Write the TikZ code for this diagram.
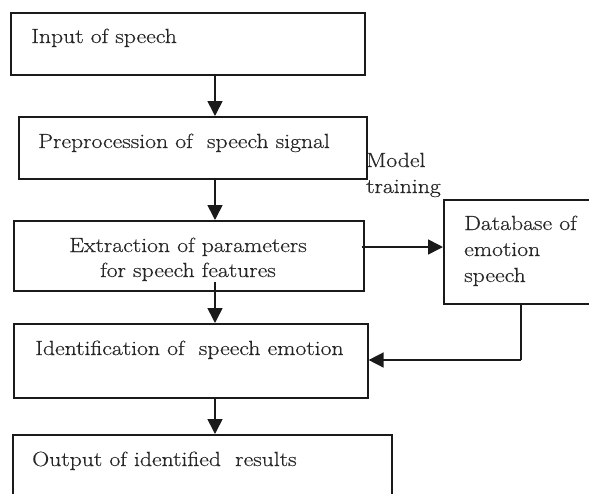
\documentclass[tikz,border=0pt]{standalone}
\usepackage{fontspec}
\setmainfont{Latin Modern Roman}[FakeStretch=1.155, FakeBold=0.4]
\usetikzlibrary{arrows.meta}
\definecolor{ink}{HTML}{1A1A1A}
\definecolor{txt}{HTML}{262626}
\begin{document}
\begin{tikzpicture}[x=1pt,y=-1pt,
  box/.style={draw=ink, line width=1.6pt, rectangle, inner sep=0pt, anchor=north west},
  lbl/.style={text=txt, inner sep=0pt, anchor=base west, font=\fontsize{20.5}{24}\selectfont},
  arr/.style={draw=ink, line width=1.6pt, -{Triangle[length=15pt,width=15pt]}},
  link/.style={draw=ink, line width=1.6pt}]
\useasboundingbox (0,0) rectangle (589,493);
\fill[white] (0,0) rectangle (589,493);

% process boxes
\node[box, minimum width=354pt, minimum height=62pt] (b1) at (10,12) {};
\node[box, minimum width=348pt, minimum height=62pt] (b2) at (18,116) {};
\node[box, minimum width=350pt, minimum height=70pt] (b3) at (13,220) {};
\node[box, minimum width=354pt, minimum height=74pt] (b4) at (13,323) {};
\node[box, minimum width=379pt, minimum height=70pt] (b5) at (12,434) {};
\node[box, minimum width=150pt, minimum height=104pt] (db) at (443,199) {};

% texts
\node[lbl] (t1) at (31,43) {Input of speech};
\node[lbl] (t2) at (38,148) {Preprocession of \ speech signal};
\node[lbl, anchor=base] (t3a) at (188,252) {Extraction of parameters};
\node[lbl, anchor=base] (t3b) at (188,277) {for speech features};
\node[lbl] (t4) at (35,355) {Identification of \ speech emotion};
\node[lbl] (t5) at (32,466) {Output of identified \ results};
\node[lbl] (t6a) at (464,230) {Database of};
\node[lbl] (t6b) at (464,256) {emotion};
\node[lbl] (t6c) at (464,282) {speech};
\node[lbl] (m1) at (366,167) {Model};
\node[lbl] (m2) at (366,193) {training};

% connectors
\coordinate (ax) at (215,0);
\coordinate (s3) at (215,282);
\coordinate (s3r) at (362,247);
\coordinate (dx) at (521,0);
\coordinate (jn) at (521,360);
\draw[arr] (b1.south -| ax) -- (b2.north -| ax);
\draw[arr] (b2.south -| ax) -- (b3.north -| ax);
\draw[arr] (s3r) -- (db.west |- s3r);
\draw[arr] (s3) -- (b4.north -| ax);
\draw[link] (db.south -| dx) -- (jn);
\draw[arr] (jn) -- (b4.east |- jn);
\draw[arr] (b4.south -| ax) -- (b5.north -| ax);
\end{tikzpicture}
\end{document}
